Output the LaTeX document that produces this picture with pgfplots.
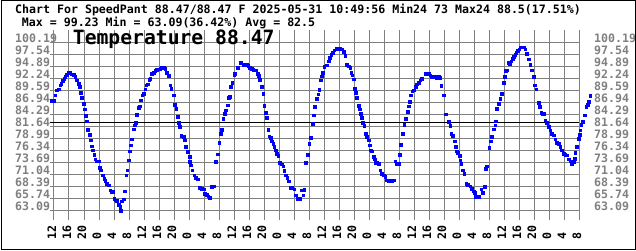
\documentclass[border=0pt]{standalone}
\usepackage{pgfplots}
\pgfplotsset{compat=1.18}
\usepackage{fontspec}
\newfontfamily\mono{DejaVu Sans Mono}
\definecolor{gridgray}{RGB}{128,128,128}
\definecolor{labgray}{RGB}{128,128,128}
\definecolor{ptblue}{RGB}{0,0,255}
\newcommand{\lblfont}{\mono\bfseries\fontsize{11.6}{12}\selectfont}

\pgfplotstableread{
h v
-0.62 87.46
-0.18 87.46
0.27 88.64
0.71 89.74
1.16 89.96
1.6 90.84
1.87 91.21
2.31 91.80
2.67 92.32
2.93 92.68
3.38 93.20
3.82 93.64
4.27 93.57
4.71 93.27
5.16 93.20
5.6 92.68
6.04 91.95
6.49 91.21
6.76 90.48
7.11 89.23
7.38 88.12
7.82 86.80
8.09 85.55
8.44 84.07
8.71 82.90
8.98 81.06
9.42 79.95
9.78 78.70
10.04 77.38
10.31 76.49
10.67 75.54
10.93 74.51
11.38 74.06
11.82 74.06
12.09 72.67
12.44 72.08
12.98 70.97
13.33 70.24
13.6 69.72
14.04 69.13
14.49 68.76
14.93 67.66
15.38 67.29
15.64 67.29
16.0 65.82
16.36 65.45
16.71 65.31
17.16 64.50
17.6 63.98
17.78 63.09
18.04 65.23
18.49 65.67
18.84 67.44
19.2 70.97
19.47 72.08
19.82 74.28
20.09 76.27
20.36 77.60
20.71 78.92
21.16 81.13
21.42 82.01
21.69 82.60
22.04 84.37
22.49 85.84
22.76 86.21
23.11 87.53
23.47 88.64
23.82 89.00
24.27 89.96
24.53 90.84
24.89 91.07
25.33 92.10
25.6 92.32
26.04 93.42
26.49 93.64
26.93 94.01
27.38 94.23
27.82 94.38
28.27 94.52
28.71 94.67
29.16 94.75
29.6 94.52
30.04 93.64
30.49 92.91
30.93 90.84
31.2 90.11
31.82 88.64
32.09 86.58
32.53 85.69
32.89 83.85
33.16 82.60
33.42 81.64
33.87 79.66
34.49 79.44
34.76 78.70
35.11 77.23
35.56 76.12
36.09 75.02
36.2 73.92
36.45 73.18
36.81 72.08
37.34 70.97
37.69 70.38
38.23 70.09
38.85 68.18
39.29 68.03
40.0 67.88
40.18 66.92
40.63 66.70
41.07 66.34
41.52 66.04
41.96 68.40
42.67 68.55
43.03 73.92
43.56 75.61
44.0 78.19
44.45 80.10
44.63 81.06
45.07 83.48
45.52 84.59
45.7 85.32
46.23 86.43
46.58 88.05
46.85 88.27
47.03 90.48
47.47 91.36
48.01 93.05
48.18 93.42
48.89 94.75
49.78 95.85
50.41 95.41
50.85 95.41
51.29 95.41
51.74 95.11
52.18 94.75
52.63 94.52
53.07 94.30
53.69 94.16
54.23 93.42
54.58 92.91
54.85 92.10
55.29 90.48
55.74 89.00
56.0 86.28
56.36 84.74
56.63 83.63
57.07 81.06
57.34 79.58
57.78 79.22
57.96 78.48
58.41 77.96
58.67 77.23
59.03 76.49
59.38 75.68
59.74 75.24
60.18 73.70
60.63 73.40
61.07 72.96
61.34 71.93
61.69 70.97
62.14 70.38
62.58 69.65
63.12 68.25
63.47 68.18
64.0 67.88
64.45 66.56
64.89 65.82
65.52 65.82
65.96 67.66
66.41 66.56
66.67 67.81
67.12 73.70
67.56 75.54
68.0 77.96
68.45 79.29
68.9 82.38
69.16 84.22
69.52 86.06
69.96 87.90
70.41 88.86
70.67 89.89
71.03 91.95
71.29 92.83
71.56 93.64
72.0 94.89
72.71 95.26
73.15 96.14
73.42 96.88
73.86 97.62
74.31 98.06
74.66 98.57
75.2 98.94
75.82 98.94
76.26 98.94
76.71 98.79
77.15 98.20
77.6 97.32
78.04 95.41
78.49 95.04
78.93 94.67
79.2 93.64
79.46 93.05
79.82 92.17
80.09 90.11
80.44 89.23
80.71 88.05
81.15 86.28
81.42 85.55
81.77 84.59
82.04 83.63
82.31 82.60
82.66 81.87
83.02 80.17
83.37 79.44
83.82 78.70
84.09 77.60
84.44 76.49
84.71 76.27
85.15 75.02
85.42 74.51
85.69 73.77
86.04 73.70
86.49 73.55
86.93 72.08
87.37 71.34
87.82 70.97
88.26 70.60
88.71 69.87
89.15 69.72
89.6 69.72
90.04 69.72
90.49 69.87
90.93 74.06
91.37 73.55
91.82 73.55
92.09 75.54
92.44 77.74
92.97 80.17
93.33 82.16
93.69 83.48
94.22 84.96
94.49 86.21
94.75 87.16
95.11 88.64
95.46 89.52
95.82 89.74
96.35 90.48
96.71 91.07
97.15 91.43
97.6 91.95
98.04 92.32
98.93 93.42
99.37 93.42
99.82 93.42
100.26 93.05
100.71 92.68
101.15 92.68
101.6 92.68
102.04 92.54
102.49 92.68
102.93 92.46
103.2 90.70
103.82 88.64
104.26 84.44
104.53 84.44
105.15 82.75
105.6 81.87
105.86 80.17
106.31 79.66
106.75 78.48
107.11 77.23
107.37 76.27
107.64 75.90
108.09 75.24
108.26 74.28
108.53 73.55
108.97 72.08
109.33 71.34
109.86 69.13
110.31 68.91
110.93 68.54
111.37 68.03
111.82 67.44
112.08 67.15
112.44 66.19
112.89 66.19
113.33 66.19
113.86 67.88
114.31 67.07
114.75 68.40
115.11 72.44
115.37 72.96
115.99 77.01
116.44 78.48
116.71 79.44
117.15 81.13
117.6 82.01
117.77 82.90
118.04 85.69
118.49 86.80
118.93 87.90
119.37 89.00
119.82 91.43
120.09 92.68
120.44 94.01
120.71 94.16
121.15 95.85
121.42 95.63
121.86 96.14
122.22 96.73
122.49 97.09
122.93 97.62
123.2 98.06
123.55 98.43
124.0 98.79
124.44 99.23
124.89 99.23
125.33 99.23
125.6 98.79
126.04 97.84
126.49 96.59
126.93 95.41
127.37 94.16
127.82 92.68
128.09 90.84
128.53 89.96
129.15 87.02
129.42 86.06
129.86 84.81
130.22 84.59
130.49 84.59
130.93 83.12
131.37 82.60
131.82 81.64
132.26 80.91
132.71 80.17
133.15 79.80
133.6 78.92
134.04 78.19
134.49 77.96
134.93 77.23
135.37 76.49
135.82 75.76
136.26 75.54
136.71 75.39
137.15 74.51
137.6 74.06
138.04 73.40
138.49 73.92
138.75 74.65
138.93 75.98
139.37 77.23
139.82 79.07
140.09 79.95
140.26 80.91
140.53 82.16
140.98 82.75
141.42 84.22
141.87 86.06
142.22 86.58
142.49 87.16
142.93 88.47
}\temps

\begin{document}
\begin{tikzpicture}[x=1pt,y=1pt]
\useasboundingbox (0,0) rectangle (636,251);
\fill[white] (0,0) rectangle (636,251);
\begin{axis}[
  at={(54pt,31pt)}, anchor=south west,
  scale only axis, width=525pt, height=190pt,
  xmin=0, xmax=140, ymin=61.04, ymax=102.99,
  clip=false,
  axis line style={draw=none},
  xtick={0,4,...,140},
  xticklabels={12,16,20,0,4,8,12,16,20,0,4,8,12,16,20,0,4,8,12,16,20,0,4,8,12,16,20,0,4,8,12,16,20,0,4,8},
  ytick={63.09,65.74,68.39,71.04,73.69,76.34,78.99,81.64,84.29,86.94,89.59,92.24,94.89,97.54,100.19},
  yticklabels={63.09,65.74,68.39,71.04,73.69,76.34,78.99,81.64,84.29,86.94,89.59,92.24,94.89,97.54,100.19},
  grid=major,
  major grid style={gridgray, line width=1pt},
  tick align=outside,
  major tick length=4pt,
  ytick pos=left,
  xtick pos=left,
  ytick style={gridgray, line width=1pt},
  xtick style={draw=none},
  yticklabel style={font=\lblfont, text=labgray, anchor=base west, inner sep=0pt, xshift=-35pt},
  xticklabel style={font=\lblfont, text=black, rotate=90, anchor=mid west, inner sep=0pt},
  xticklabel shift=16pt,
]
\addplot[black, line width=1pt] coordinates {(-1.07,82.5) (140,82.5)};
\addplot[only marks, mark=square*, mark size=1.4pt, mark options={draw=ptblue, fill=ptblue, line width=0.1pt}] table[x=h, y=v] {\temps};
\end{axis}
\begin{axis}[
  at={(54pt,31pt)}, anchor=south west,
  scale only axis, width=525pt, height=190pt,
  xmin=0, xmax=140, ymin=61.04, ymax=102.99,
  axis line style={draw=none},
  xtick=\empty,
  ytick={63.09,65.74,68.39,71.04,73.69,76.34,78.99,81.64,84.29,86.94,89.59,92.24,94.89,97.54,100.19},
  yticklabels={63.09,65.74,68.39,71.04,73.69,76.34,78.99,81.64,84.29,86.94,89.59,92.24,94.89,97.54,100.19},
  ytick pos=right,
  yticklabel pos=right,
  ytick style={draw=none},
  yticklabel style={font=\lblfont, text=labgray, anchor=base west, inner sep=0pt, xshift=15pt},
]
\end{axis}
\node[anchor=base west, inner sep=0pt, font=\lblfont] at (15,237) {Chart For SpeedPant 88.47/88.47 F 2025-05-31 10:49:56 Min24 73 Max24 88.5(17.51\%)};
\node[anchor=base west, inner sep=0pt, font=\lblfont] at (21.7,224) {Max = 99.23 Min = 63.09(36.42\%) Avg = 82.5};
\node[anchor=base west, inner sep=0pt, font=\mono\bfseries\fontsize{19.7}{20}\selectfont] at (72.7,206) {Temperature 88.47};
\draw[black, line width=1pt] (1,1.5) rectangle (635,250);
\end{tikzpicture}
\end{document}
